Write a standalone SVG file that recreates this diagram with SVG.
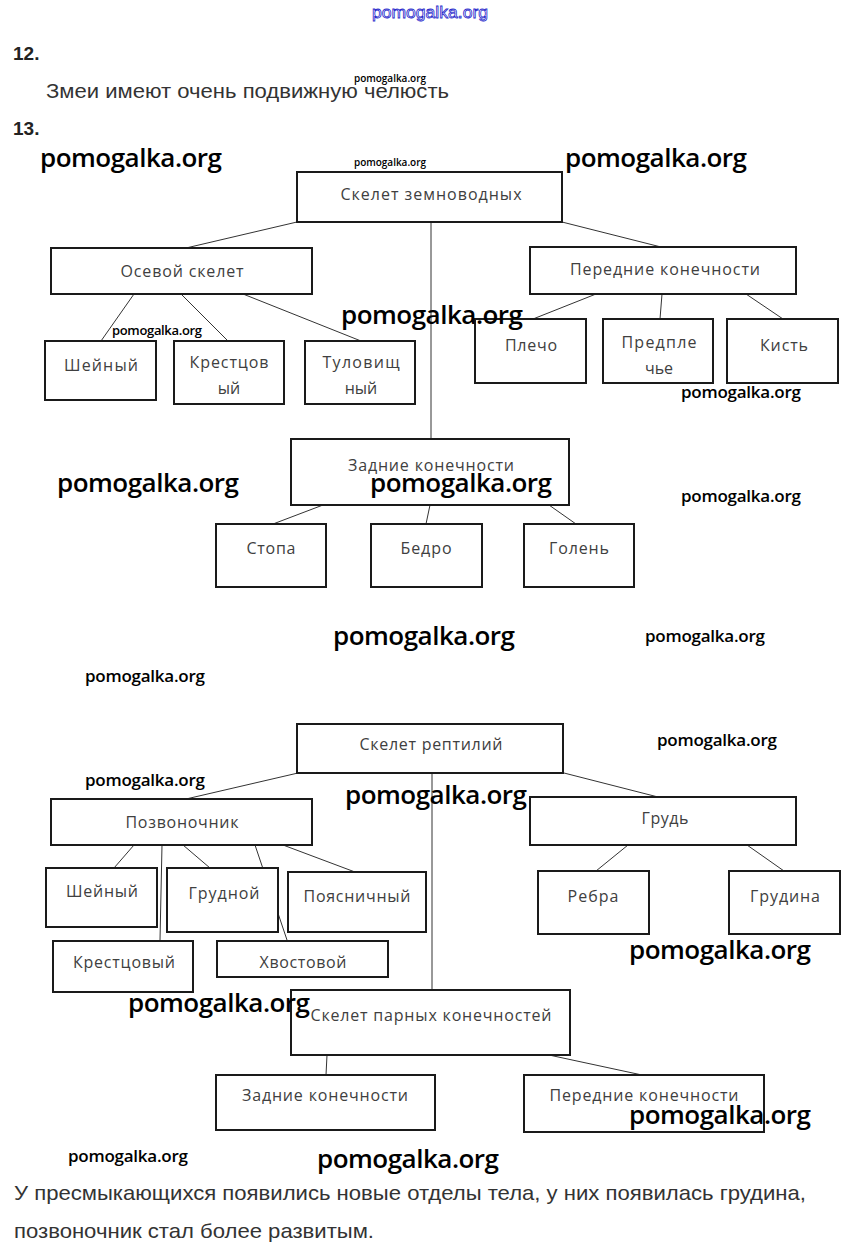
<svg xmlns="http://www.w3.org/2000/svg" width="853" height="1258" viewBox="0 0 853 1258">
<style>
.bx rect{fill:#fff;stroke:#1a1a1a;stroke-width:2}
.lb{font-family:"Open Sans","Noto Sans",sans-serif;font-size:16px;fill:#404040;text-anchor:middle}
.cn line{stroke:#333;stroke-width:1}
.body{font-family:"Liberation Sans",Arial,sans-serif;font-size:21px;fill:#333}
.num{font-family:"Liberation Sans",Arial,sans-serif;font-size:19px;font-weight:bold;fill:#222}
.wb{font-family:"Open Sans","Noto Sans",sans-serif;font-weight:600;font-size:26px;fill:#000}
.wm{font-family:"Open Sans","Noto Sans",sans-serif;font-weight:600;font-size:17px;fill:#000}
.ws{font-family:"Open Sans","Noto Sans",sans-serif;font-weight:600;font-size:13px;fill:#000}
.wt{font-family:"Open Sans","Noto Sans",sans-serif;font-weight:600;font-size:10px;fill:#000}
</style>
<rect width="853" height="1258" fill="#fff"/>

<text x="372" y="18" font-family="Liberation Sans,Arial,sans-serif" font-size="17" fill="#fff" stroke="#2a2acc" stroke-width="0.8" textLength="116" lengthAdjust="spacingAndGlyphs">pomogalka.org</text>

<text class="num" x="13" y="60">12.</text>
<text class="body" x="46" y="98" textLength="403" lengthAdjust="spacingAndGlyphs">Змеи имеют очень подвижную челюсть</text>
<text class="num" x="13" y="135">13.</text>

<g id="connectors" class="cn">
<line x1="297" y1="222" x2="186" y2="248"/>
<line x1="562" y1="222" x2="661" y2="247"/>
<line x1="431" y1="222" x2="431" y2="439"/>
<line x1="134" y1="294" x2="101" y2="341"/>
<line x1="181" y1="294" x2="228" y2="341"/>
<line x1="243" y1="294" x2="361" y2="341"/>
<line x1="596" y1="294" x2="533" y2="319"/>
<line x1="662" y1="294" x2="660" y2="319"/>
<line x1="746" y1="294" x2="783" y2="319"/>
<line x1="323" y1="505" x2="273" y2="524"/>
<line x1="430" y1="505" x2="426" y2="524"/>
<line x1="549" y1="505" x2="576" y2="524"/>
<line x1="298" y1="773" x2="186" y2="799"/>
<line x1="564" y1="773" x2="658" y2="797"/>
<line x1="432" y1="773" x2="432" y2="990"/>
<line x1="134" y1="845" x2="114" y2="868"/>
<line x1="162" y1="845" x2="160" y2="940"/>
<line x1="183" y1="845" x2="210" y2="868"/>
<line x1="255" y1="845" x2="287" y2="940"/>
<line x1="283" y1="845" x2="355" y2="872"/>
<line x1="628" y1="845" x2="596" y2="871"/>
<line x1="747" y1="845" x2="784" y2="871"/>
<line x1="327" y1="1055" x2="326" y2="1075"/>
<line x1="549" y1="1055" x2="642" y2="1075"/>
</g>

<g id="n-root1" class="bx"><rect x="297" y="172" width="265" height="50"/><text class="lb" x="431" y="200" textLength="181">Скелет земноводных</text></g>
<g id="n-osevoy" class="bx"><rect x="51" y="248" width="261" height="46"/><text class="lb" x="182" y="277" textLength="123">Осевой скелет</text></g>
<g id="n-peredn1" class="bx"><rect x="530" y="247" width="266" height="47"/><text class="lb" x="665" y="275" textLength="190">Передние конечности</text></g>
<g id="n-sheyny1" class="bx"><rect x="45" y="341" width="111" height="59"/><text class="lb" x="101" y="371" textLength="74">Шейный</text></g>
<g id="n-krest1" class="bx"><rect x="174" y="341" width="110" height="63"/><text class="lb" x="229" y="368" textLength="79">Крестцов</text><text class="lb" x="229" y="394">ый</text></g>
<g id="n-tulov" class="bx"><rect x="305" y="341" width="110" height="63"/><text class="lb" x="361" y="368" textLength="77">Туловищ</text><text class="lb" x="361" y="394">ный</text></g>
<g id="n-plecho" class="bx"><rect x="475" y="319" width="111" height="64"/><text class="lb" x="531" y="351" textLength="52">Плечо</text></g>
<g id="n-predpl" class="bx"><rect x="603" y="319" width="110" height="64"/><text class="lb" x="659" y="348" textLength="75">Предпле</text><text class="lb" x="659" y="374">чье</text></g>
<g id="n-kist" class="bx"><rect x="727" y="319" width="111" height="64"/><text class="lb" x="784" y="351" textLength="48">Кисть</text></g>
<g id="n-zadn1" class="bx"><rect x="291" y="439" width="278" height="66"/><text class="lb" x="431" y="471" textLength="166">Задние конечности</text></g>
<g id="n-stopa" class="bx"><rect x="216" y="524" width="110" height="63"/><text class="lb" x="271" y="554" textLength="49">Стопа</text></g>
<g id="n-bedro" class="bx"><rect x="371" y="524" width="111" height="63"/><text class="lb" x="426" y="554" textLength="51">Бедро</text></g>
<g id="n-golen" class="bx"><rect x="524" y="524" width="110" height="63"/><text class="lb" x="579" y="554" textLength="60">Голень</text></g>

<g id="n-root2" class="bx"><rect x="297" y="724" width="266" height="49"/><text class="lb" x="431" y="750" textLength="143">Скелет рептилий</text></g>
<g id="n-pozv" class="bx"><rect x="51" y="799" width="261" height="46"/><text class="lb" x="182" y="828" textLength="113">Позвоночник</text></g>
<g id="n-grud" class="bx"><rect x="530" y="797" width="266" height="48"/><text class="lb" x="665" y="824" textLength="47">Грудь</text></g>
<g id="n-sheyny2" class="bx"><rect x="46" y="868" width="111" height="59"/><text class="lb" x="102" y="897" textLength="72">Шейный</text></g>
<g id="n-grudnoy" class="bx"><rect x="167" y="868" width="111" height="64"/><text class="lb" x="224" y="899" textLength="71">Грудной</text></g>
<g id="n-poyasn" class="bx"><rect x="288" y="872" width="138" height="60"/><text class="lb" x="357" y="902" textLength="107">Поясничный</text></g>
<g id="n-rebra" class="bx"><rect x="538" y="871" width="111" height="63"/><text class="lb" x="593" y="902" textLength="51">Ребра</text></g>
<g id="n-grudina" class="bx"><rect x="729" y="871" width="111" height="63"/><text class="lb" x="785" y="902" textLength="70">Грудина</text></g>
<g id="n-krest2" class="bx"><rect x="53" y="941" width="140" height="51"/><text class="lb" x="124" y="968" textLength="102">Крестцовый</text></g>
<g id="n-hvost" class="bx"><rect x="217" y="941" width="171" height="36"/><text class="lb" x="303" y="968" textLength="87">Хвостовой</text></g>
<g id="n-parn" class="bx"><rect x="291" y="990" width="279" height="65"/><text class="lb" x="431" y="1021" textLength="241">Скелет парных конечностей</text></g>
<g id="n-zadn2" class="bx"><rect x="216" y="1075" width="219" height="55"/><text class="lb" x="325" y="1101" textLength="166">Задние конечности</text></g>
<g id="n-peredn2" class="bx"><rect x="524" y="1075" width="240" height="57"/><text class="lb" x="644" y="1101" textLength="189">Передние конечности</text></g>

<g id="watermarks">
<text class="wt" x="354" y="82" textLength="72">pomogalka.org</text>
<text class="wt" x="354" y="166" textLength="72">pomogalka.org</text>
<text class="wb" x="40" y="167" textLength="182">pomogalka.org</text>
<text class="wb" x="565" y="167" textLength="182">pomogalka.org</text>
<text class="wb" x="341" y="324" textLength="182">pomogalka.org</text>
<text class="ws" x="112" y="335" textLength="90">pomogalka.org</text>
<text class="wm" x="681" y="398" textLength="120">pomogalka.org</text>
<text class="wb" x="57" y="492" textLength="182">pomogalka.org</text>
<text class="wb" x="370" y="492" textLength="182">pomogalka.org</text>
<text class="wm" x="681" y="502" textLength="120">pomogalka.org</text>
<text class="wb" x="333" y="645" textLength="182">pomogalka.org</text>
<text class="wm" x="645" y="642" textLength="120">pomogalka.org</text>
<text class="wm" x="85" y="682" textLength="120">pomogalka.org</text>
<text class="wm" x="657" y="746" textLength="120">pomogalka.org</text>
<text class="wm" x="85" y="786" textLength="120">pomogalka.org</text>
<text class="wb" x="345" y="804" textLength="182">pomogalka.org</text>
<text class="wb" x="629" y="959" textLength="182">pomogalka.org</text>
<text class="wb" x="128" y="1012" textLength="182">pomogalka.org</text>
<text class="wb" x="629" y="1124" textLength="182">pomogalka.org</text>
<text class="wm" x="68" y="1162" textLength="120">pomogalka.org</text>
<text class="wb" x="317" y="1168" textLength="182">pomogalka.org</text>
</g>

<text class="body" x="14" y="1200" textLength="792" lengthAdjust="spacingAndGlyphs">У пресмыкающихся появились новые отделы тела, у них появилась грудина,</text>
<text class="body" x="14" y="1238" textLength="360" lengthAdjust="spacingAndGlyphs">позвоночник стал более развитым.</text>
</svg>
